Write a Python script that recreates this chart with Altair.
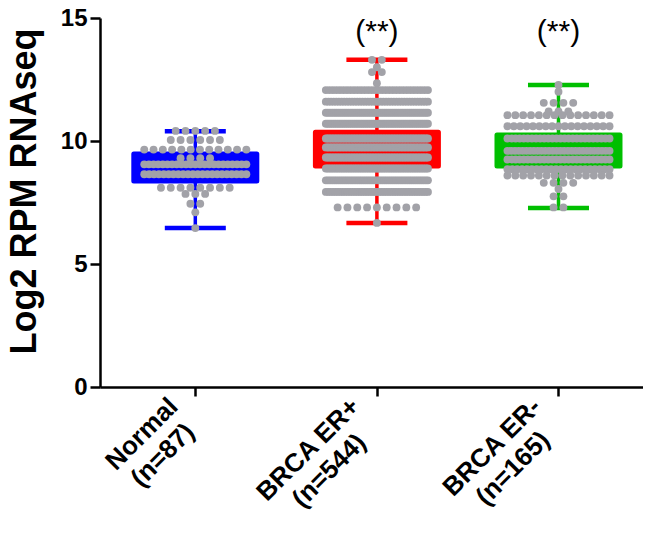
import json
import altair as alt
import pandas as pd

# ---------------- data ----------------
groups = ["Normal", "BRCA ER+", "BRCA ER-"]
n_labels = ["(n=87)", "(n=544)", "(n=165)"]
box_colors = ["#0000FF", "#FF0000", "#00BF00"]
whisker_low = [6.46, 6.67, 7.28]
q1 = [8.37, 8.98, 8.98]
q3 = [9.47, 10.36, 10.24]
whisker_high = [10.40, 13.30, 12.28]
stars = ["", "(**)", "(**)"]

# point rows: value of each row and number of dots in it
normal_rows = [10.41, 10.04, 9.65, 9.3, 9.05, 8.65, 8.1, 7.85, 7.45, 7.1, 6.46]
normal_counts = [5, 6, 12, 4, 23, 22, 8, 3, 2, 1, 1]
erpos_rows = [13.3, 13.0, 12.8, 12.35, 12.07, 11.6, 11.15, 10.7, 10.1, 9.74, 9.33, 8.88, 8.4, 7.93, 7.3, 6.67]
erpos_counts = [2, 1, 2, 1, 30, 40, 50, 55, 65, 70, 65, 60, 50, 43, 9, 1]
erneg_rows = [12.28, 12.0, 11.55, 11.2, 11.05, 10.6, 10.1, 9.6, 9.25, 8.85, 8.6, 8.3, 8.05, 7.75, 7.3]
erneg_counts = [1, 1, 4, 3, 14, 17, 26, 28, 26, 22, 14, 4, 1, 2, 2]

# ---------------- layout helpers ----------------
PLOT_W = 543
PLOT_H = 369
PX_PER_UNIT = 185.0
PX_PER_Y = PLOT_H / 15.0
X_MIN = -92.0 / PX_PER_UNIT
X_MAX = X_MIN + PLOT_W / PX_PER_UNIT
HALF_SPAN = 52.0
DOT_STEP = 10.0

all_rows = [normal_rows, erpos_rows, erneg_rows]
all_counts = [normal_counts, erpos_counts, erneg_counts]

pts = []
for gi, (vals, cnts) in enumerate(zip(all_rows, all_counts)):
    for v, c in zip(vals, cnts):
        step = min(DOT_STEP, 2 * HALF_SPAN / (c - 1)) if c > 1 else 0.0
        for k in range(c):
            off = (k - (c - 1) / 2.0) * step
            pts.append({"group": groups[gi], "xpos": gi + off / PX_PER_UNIT, "value": v})
points_df = pd.DataFrame(pts)

box_df = pd.DataFrame({
    "group": groups,
    "idx": list(range(len(groups))),
    "low": whisker_low,
    "q1": q1,
    "q3": q3,
    "high": whisker_high,
    "star": stars,
})

# rotated two-line category labels (lines centred on each other, block right end near the tick)
FONT = "Liberation Sans"
LAB_FS = 26
LAB_LH = 30
LAB_AX, LAB_AY = -12.0, 26.0
BOLD_W = {"N": .722, "o": .611, "r": .389, "m": .889, "a": .556, "l": .278, "(": .333, ")": .333,
          "n": .611, "=": .584, "B": .722, "R": .722, "C": .722, "A": .722, " ": .278, "E": .667,
          "+": .584, "-": .333}
def text_w(s):
    return sum(BOLD_W.get(ch, .556) for ch in s) * LAB_FS

ux, uy = 0.7071, -0.7071
px_, py_ = 0.7071, 0.7071
lab = []
for gi, (l1, l2) in enumerate(zip(groups, n_labels)):
    W = max(text_w(l1), text_w(l2))
    cx = LAB_AX - W / 2 * ux
    cy = LAB_AY - W / 2 * uy
    for li, txt in enumerate([l1, l2]):
        k = (li - 0.5) * LAB_LH
        dx = cx + k * px_
        dy = cy + k * py_
        lab.append({"text": txt, "lx": gi + dx / PX_PER_UNIT, "ly": -dy / PX_PER_Y})
label_df = pd.DataFrame(lab)

xscale = alt.Scale(domain=[X_MIN, X_MAX], nice=False, zero=False)
yscale = alt.Scale(domain=[0, 15], nice=False)
color = alt.Color("group:N", scale=alt.Scale(domain=groups, range=box_colors), legend=None)

x_axis = alt.Axis(values=[0, 1, 2], labels=False, title=None, tickSize=9, grid=False)
y_axis = alt.Axis(
    values=[0, 5, 10, 15], title="Log2 RPM RNAseq",
    labelFontSize=24, labelFontWeight="bold", labelFont=FONT, labelColor="black",
    labelPadding=3, tickSize=10, grid=False,
    titleFontSize=36, titleFontWeight="bold", titleFont=FONT, titleColor="black",
    titleX=-65, titleY=173, titleBaseline="alphabetic", titleAlign="center", titleAngle=270,
)

base = alt.Chart(box_df)

whisker = base.mark_rule(strokeWidth=3.5, opacity=1).encode(
    x=alt.X("idx:Q", scale=xscale, axis=x_axis),
    y=alt.Y("low:Q", scale=yscale, axis=y_axis),
    y2="high:Q",
    color=color,
)
cap_top = base.mark_tick(orient="horizontal", size=61, thickness=4.5, opacity=1).encode(
    x=alt.X("idx:Q", scale=xscale), y=alt.Y("high:Q", scale=yscale), color=color
)
cap_bot = base.mark_tick(orient="horizontal", size=61, thickness=4.5, opacity=1).encode(
    x=alt.X("idx:Q", scale=xscale), y=alt.Y("low:Q", scale=yscale), color=color
)
box = base.mark_bar(size=123, strokeWidth=5, strokeJoin="round", opacity=1).encode(
    x=alt.X("idx:Q", scale=xscale),
    y=alt.Y("q1:Q", scale=yscale),
    y2="q3:Q",
    color=color,
    stroke=alt.Stroke("group:N", scale=alt.Scale(domain=groups, range=box_colors), legend=None),
)
dots = alt.Chart(points_df).mark_circle(size=62, opacity=1, color="#a2a2a8").encode(
    x=alt.X("xpos:Q", scale=xscale),
    y=alt.Y("value:Q", scale=yscale),
)
star_text = base.mark_text(fontSize=30, font=FONT, color="black", baseline="middle").encode(
    x=alt.X("idx:Q", scale=xscale),
    y=alt.Y(datum=14.45, scale=yscale),
    text="star:N",
)
cat_labels = alt.Chart(label_df).mark_text(
    angle=315, align="center", baseline="middle", fontSize=LAB_FS, fontWeight="bold",
    font=FONT, color="black",
).encode(
    x=alt.X("lx:Q", scale=xscale),
    y=alt.Y("ly:Q", scale=yscale),
    text="text:N",
)

chart = alt.layer(whisker, cap_top, cap_bot, box, dots, star_text, cat_labels).properties(
    width=PLOT_W, height=PLOT_H,
    autosize=alt.AutoSizeParams(type="none"),
    padding={"left": 92, "top": 10, "right": 0, "bottom": 150},
).configure_view(stroke=None).configure_axis(
    domainColor="black", domainWidth=2.5, tickColor="black", tickWidth=2.5,
)

chart.save("out.html", embed_options={"renderer": "svg", "actions": False})
